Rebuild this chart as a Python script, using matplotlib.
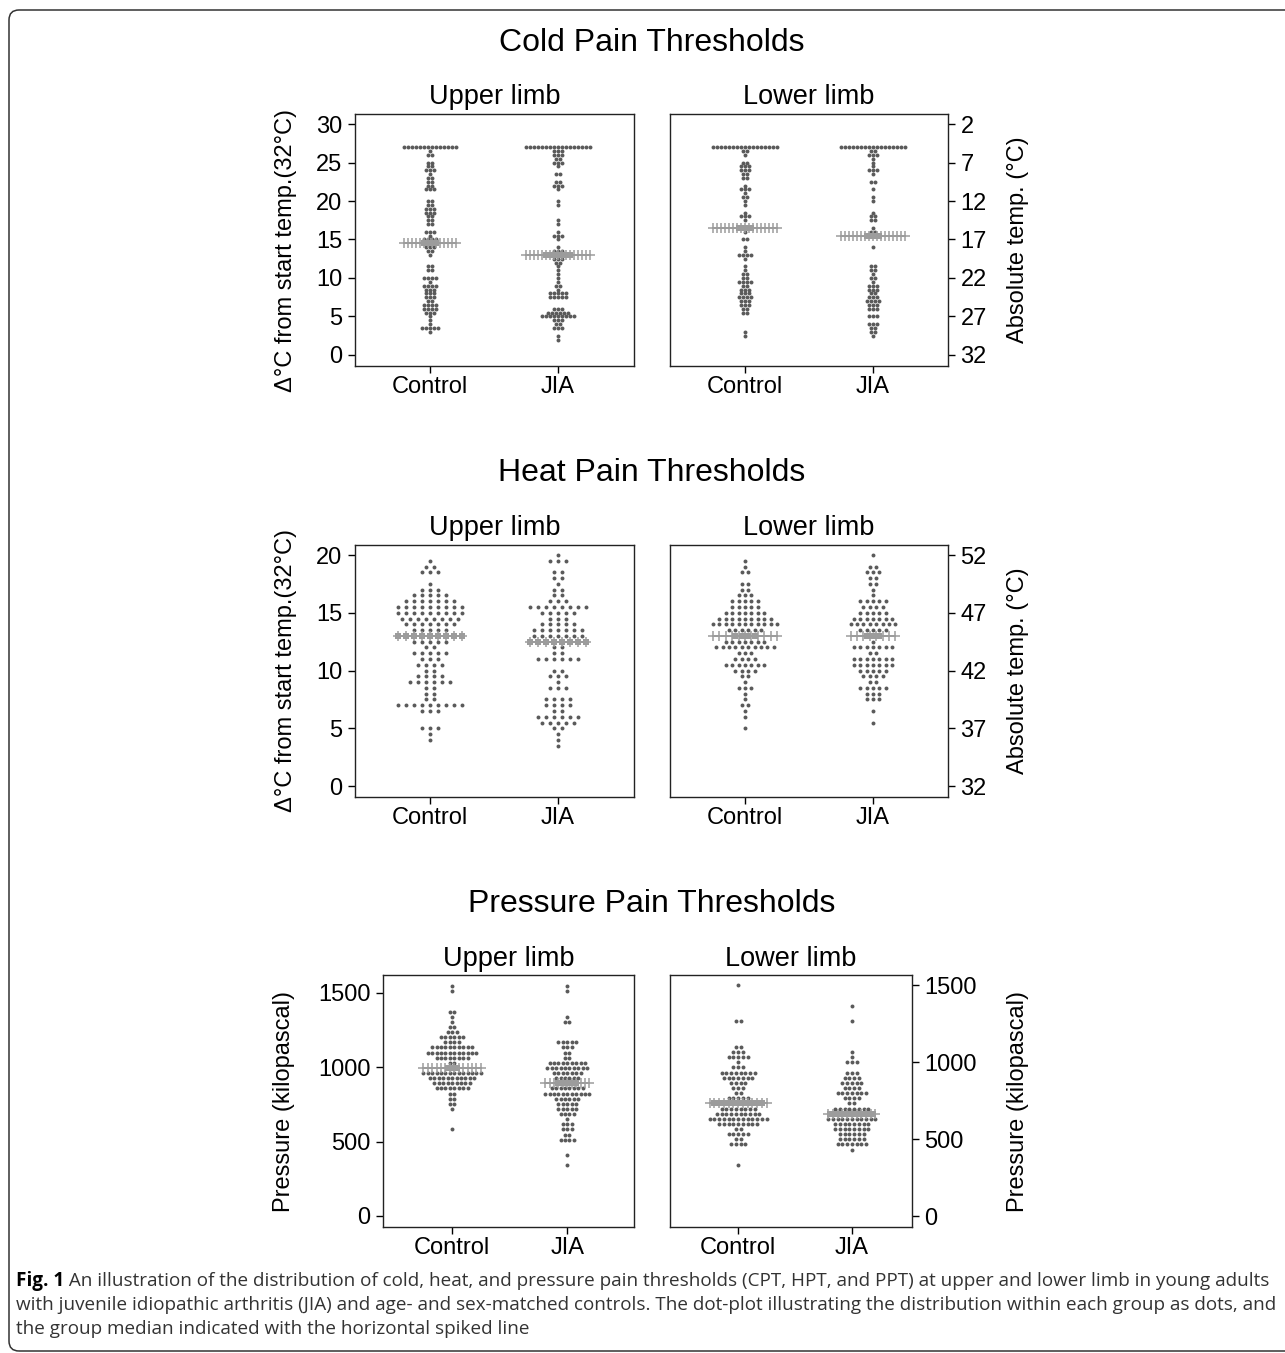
import matplotlib
matplotlib.use('Agg')
import matplotlib.pyplot as plt
import numpy as np
from matplotlib.patches import FancyBboxPatch

plt.rcParams['font.family'] = ['Liberation Sans', 'DejaVu Sans']

W, H = 1285, 1353
DOT = '#5a5a5a'
MED = '#9c9c9c'

groups = ['Control', 'JIA']

# (bin value, number of subjects in that bin)
cold_up_ctrl = [(27, 14), (26.5, 1), (26, 2), (25, 2), (24.5, 2), (24, 3), (23.5, 1), (23, 2), (22.5, 2),
                (22, 2), (21.5, 3), (20, 2), (19.5, 2), (19, 3), (18.5, 3), (18, 2), (17.5, 2), (17, 2),
                (16, 3), (15.5, 1), (15, 4), (14.5, 4), (14, 3), (13.5, 2), (13, 1), (11.5, 2), (11, 2),
                (10, 4), (9.5, 1), (9, 4), (8.5, 3), (8, 3), (7.5, 3), (7, 2), (6.5, 4), (6, 4), (5.5, 3),
                (5, 1), (4.5, 1), (4, 1), (3.5, 5), (3, 1)]
cold_up_jia = [(27, 17), (26.5, 3), (26, 3), (25.5, 2), (25, 3), (24.5, 1), (23.5, 2), (22.5, 2), (22, 3),
               (21.5, 1), (20, 1), (19.5, 1), (17.5, 1), (17, 1), (16, 1), (15.5, 3), (15, 1), (14, 1),
               (13.5, 3), (13, 7), (12.5, 3), (12, 2), (11.5, 1), (11, 1), (10.5, 1), (10, 1), (9.5, 1),
               (9, 2), (8.5, 1), (8, 5), (7.5, 5), (6, 3), (5.5, 6), (5, 9), (4.5, 3), (4, 2), (3.5, 3),
               (2.5, 1), (2, 1)]
cold_lo_ctrl = [(27, 17), (26.5, 2), (26, 1), (25, 2), (24.5, 3), (24, 3), (23.5, 2), (23, 2), (22, 1),
                (21.5, 3), (21, 1), (20.5, 2), (20, 1), (19.5, 1), (18.5, 1), (18, 3), (17.5, 1),
                (16.5, 4), (16, 1), (15, 2), (14, 1), (13.5, 1), (13, 4), (12.5, 1), (11.5, 1), (11, 1),
                (10.5, 2), (10, 2), (9.5, 4), (9, 2), (8.5, 3), (8, 3), (7.5, 4), (7, 3), (6.5, 3), (6, 2),
                (5.5, 2), (3, 1), (2.5, 1)]
cold_lo_jia = [(27, 17), (26.5, 2), (26, 3), (25.5, 1), (25, 1), (24.5, 1), (24, 3), (23.5, 1), (22.5, 2),
               (21.5, 1), (20.5, 1), (20, 1), (18.5, 1), (18, 2), (17.5, 2), (16.5, 1), (16, 2),
               (15.5, 4), (14, 1), (11.5, 2), (11, 2), (10.5, 1), (10, 2), (9.5, 1), (9, 3), (8.5, 3),
               (8, 2), (7.5, 3), (7, 4), (6.5, 3), (6, 3), (5, 3), (4, 3), (3.5, 2), (3, 2), (2.5, 1)]

heat_up_ctrl = [(19.5, 1), (19, 2), (18.5, 3), (17.5, 1), (17, 3), (16.5, 5), (16, 7), (15.5, 9), (15, 9),
                (14.5, 8), (14, 7), (13.5, 5), (13, 9), (12.5, 5), (12, 2), (11.5, 5), (11, 3), (10.5, 4),
                (10, 2), (9.5, 4), (9, 6), (8.5, 2), (8, 2), (7.5, 2), (7, 9), (6.5, 3), (5, 3), (4.5, 1),
                (4, 1)]
heat_up_jia = [(20, 1), (19.5, 3), (18.5, 2), (18, 2), (17.5, 1), (17, 2), (16.5, 2), (16, 3), (15.5, 8),
               (15, 5), (14.5, 3), (14, 5), (13.5, 7), (13, 7), (12.5, 8), (12, 2), (11.5, 2), (11, 6),
               (10, 2), (9.5, 3), (9, 1), (8.5, 3), (7.5, 4), (7, 4), (6.5, 2), (6, 6), (5.5, 5), (5, 2),
               (4.5, 1), (4, 1), (3.5, 1)]
heat_lo_ctrl = [(19.5, 1), (19, 1), (18.5, 2), (17.5, 2), (17, 2), (16.5, 3), (16, 5), (15.5, 5), (15, 7),
                (14.5, 9), (14, 11), (13.5, 6), (13, 4), (12.5, 7), (12, 10), (11.5, 3), (11, 4),
                (10.5, 7), (10, 4), (9.5, 2), (9, 1), (8.5, 3), (8, 1), (7.5, 1), (7, 2), (6.5, 1), (6, 1),
                (5, 1)]
heat_lo_jia = [(20, 1), (19, 2), (18.5, 3), (18, 2), (17.5, 2), (17, 1), (16.5, 1), (16, 5), (15.5, 4),
               (15, 5), (14.5, 7), (14, 8), (13.5, 5), (13, 3), (12.5, 1), (12, 7), (11.5, 2), (11, 7),
               (10.5, 7), (10, 5), (9.5, 4), (9, 2), (8.5, 5), (8, 3), (7.5, 3), (6.5, 1), (5.5, 1)]

pres_up_ctrl = [(1549, 1), (1514, 1), (1375, 2), (1341, 1), (1306, 1), (1272, 2), (1237, 3), (1203, 6),
                (1168, 4), (1134, 10), (1099, 12), (1065, 8), (1030, 2), (996, 3), (961, 14), (927, 11),
                (892, 9), (858, 8), (823, 2), (789, 2), (754, 2), (720, 1), (582, 1)]
pres_up_jia = [(1549, 1), (1514, 1), (1341, 1), (1306, 2), (1168, 5), (1134, 3), (1099, 2), (1065, 2),
               (1030, 9), (996, 10), (961, 7), (927, 6), (892, 5), (858, 8), (823, 11), (789, 6),
               (754, 5), (720, 5), (685, 4), (651, 1), (616, 3), (582, 3), (547, 2), (513, 4), (409, 1),
               (340, 1)]
pres_lo_ctrl = [(1498, 1), (1265, 2), (1098, 2), (1065, 3), (1032, 5), (998, 1), (965, 3), (932, 8),
                (898, 7), (865, 4), (832, 3), (798, 2), (765, 5), (732, 11), (698, 8), (665, 10), (632, 13),
                (598, 9), (565, 2), (532, 5), (498, 2), (465, 4), (332, 1)]
pres_lo_jia = [(1365, 1), (1265, 1), (1065, 1), (1032, 1), (998, 3), (932, 3), (898, 4), (865, 5), (832, 4),
               (798, 7), (765, 4), (732, 2), (698, 8), (665, 10), (632, 11), (598, 8), (565, 8), (532, 6),
               (498, 6), (465, 7), (432, 1)]

# group medians (row where the spiked line sits)
medians = {
    'cold_up': [14.5, 13], 'cold_lo': [16.5, 15.5],
    'heat_up': [13, 12.5], 'heat_lo': [13, 13],
    'pres_up': [996, 892], 'pres_lo': [732, 665],
}


def px_rect(x0, y0, x1, y1):
    return [x0 / W, 1 - y1 / H, (x1 - x0) / W, (y1 - y0) / H]


def ftext(x, y, s, **kw):
    return fig.text(x / W, 1 - y / H, s, ha=kw.pop('ha', 'center'), va=kw.pop('va', 'center'), **kw)


def dotplot(ax, data, meds):
    widest = max(n for d in data for _, n in d)
    step = 0.5 / (widest - 1)
    for xc, rows, med in zip([1, 2], data, meds):
        for v, n in rows:
            xs = xc + (np.arange(n) - (n - 1) / 2) * step
            if v == med:
                ax.scatter(xs, np.full(n, v), s=22, marker='s', color=MED, lw=0, zorder=4)
            else:
                ax.scatter(xs, np.full(n, v), s=8, color=DOT, lw=0, zorder=3)
        wn = max(n for _, n in rows)
        xs = xc + (np.arange(wn) - (wn - 1) / 2) * step
        ax.plot(xs, np.full(wn, med), color=MED, lw=1.2, marker='+', ms=6.5, mew=1.1, zorder=4)


def style(ax, xlim, ylim, side):
    ax.set_xlim(*xlim)
    ax.set_ylim(*ylim)
    ax.set_xticks([1, 2])
    ax.set_xticklabels(groups)
    for sp in ax.spines.values():
        sp.set_linewidth(1.0)
        sp.set_color('#222222')
    ax.tick_params(axis='both', direction='out', length=5, width=1, labelsize=17, pad=4)
    ax.tick_params(axis='x', pad=2)
    if side == 'right':
        ax.yaxis.tick_right()


fig = plt.figure(figsize=(W / 100, H / 100), dpi=100)

layout = {
    'cold_up': (355, 114, 634, 366), 'cold_lo': (670, 114, 948, 366),
    'heat_up': (355, 545, 634, 797), 'heat_lo': (670, 545, 948, 797),
    'pres_up': (383, 975, 634, 1227), 'pres_lo': (670, 975, 912, 1227),
}
panel_data = {
    'cold_up': [cold_up_ctrl, cold_up_jia], 'cold_lo': [cold_lo_ctrl, cold_lo_jia],
    'heat_up': [heat_up_ctrl, heat_up_jia], 'heat_lo': [heat_lo_ctrl, heat_lo_jia],
    'pres_up': [pres_up_ctrl, pres_up_jia], 'pres_lo': [pres_lo_ctrl, pres_lo_jia],
}
xlims = {'cold_up': (0.414, 2.594), 'cold_lo': (0.414, 2.586), 'heat_up': (0.414, 2.594),
         'heat_lo': (0.414, 2.586), 'pres_up': (0.40, 2.58), 'pres_lo': (0.40, 2.53)}
ylims = {'cold_up': (-1.43, 31.3), 'cold_lo': (-1.43, 31.3), 'heat_up': (-0.95, 20.87),
         'heat_lo': (-0.95, 20.87), 'pres_up': (-74, 1621), 'pres_lo': (-71, 1565)}

axes = {}
for key, r in layout.items():
    ax = fig.add_axes(px_rect(*r))
    dotplot(ax, panel_data[key], medians[key])
    style(ax, xlims[key], ylims[key], 'right' if key.endswith('lo') else 'left')
    axes[key] = ax

# y ticks: relative on left, absolute on right
cold_ticks = np.arange(0, 31, 5)
axes['cold_up'].set_yticks(cold_ticks)
axes['cold_lo'].set_yticks(cold_ticks)
axes['cold_lo'].set_yticklabels([str(32 - t) for t in cold_ticks])
heat_ticks = np.arange(0, 21, 5)
axes['heat_up'].set_yticks(heat_ticks)
axes['heat_lo'].set_yticks(heat_ticks)
axes['heat_lo'].set_yticklabels([str(32 + t) for t in heat_ticks])
pres_ticks = [0, 500, 1000, 1500]
axes['pres_up'].set_yticks(pres_ticks)
axes['pres_lo'].set_yticks(pres_ticks)

# titles
for y0, title in zip([43, 473, 904], ['Cold Pain Thresholds', 'Heat Pain Thresholds', 'Pressure Pain Thresholds']):
    ftext(652, y0, title, size=23)
for key, y0 in [('cold', 97), ('heat', 528), ('pres', 959)]:
    r_up, r_lo = layout[key + '_up'], layout[key + '_lo']
    ftext((r_up[0] + r_up[2]) / 2, y0, 'Upper limb', size=19.5)
    ftext((r_lo[0] + r_lo[2]) / 2, y0, 'Lower limb', size=19.5)

# axis titles
ftext(286, 250, 'Δ°C from start temp.(32°C)', size=17, rotation=90)
ftext(1018, 240, 'Absolute temp. (°C)', size=17, rotation=90)
ftext(286, 671, 'Δ°C from start temp.(32°C)', size=17, rotation=90)
ftext(1018, 671, 'Absolute temp. (°C)', size=17, rotation=90)
ftext(284, 1101, 'Pressure (kilopascal)', size=17, rotation=90)
ftext(1018, 1101, 'Pressure (kilopascal)', size=17, rotation=90)

# caption
cap_bold = 'Fig. 1'
cap_lines = [
    ' An illustration of the distribution of cold, heat, and pressure pain thresholds (CPT, HPT, and PPT) at upper and lower limb in young adults',
    'with juvenile idiopathic arthritis (JIA) and age- and sex-matched controls. The dot-plot illustrating the distribution within each group as dots, and',
    'the group median indicated with the horizontal spiked line',
]
cap_font = ['Open Sans', 'DejaVu Sans']
renderer = fig.canvas.get_renderer()
probe = ftext(16, 1280, cap_bold + cap_lines[0], size=12, family=cap_font, ha='left')
cap_size = 12 * 1248 / probe.get_window_extent(renderer).width
probe.remove()

b = ftext(16, 1281, cap_bold, size=cap_size, family=cap_font, weight='bold', ha='left')
bx = b.get_window_extent(renderer).x1
ftext(bx, 1281, cap_lines[0], size=cap_size, family=cap_font, ha='left', color='#333333')
ftext(16, 1305, cap_lines[1], size=cap_size, family=cap_font, ha='left', color='#333333')
ftext(16, 1329, cap_lines[2], size=cap_size, family=cap_font, ha='left', color='#333333')

# rounded frame around the figure
frame = FancyBboxPatch((0.09, 0.02), 13.6, 13.41, boxstyle='round,pad=0,rounding_size=0.1',
                       transform=fig.dpi_scale_trans, fill=False, lw=1.1, ec='#333333')
fig.add_artist(frame)

fig.savefig('out.png', dpi=100)
